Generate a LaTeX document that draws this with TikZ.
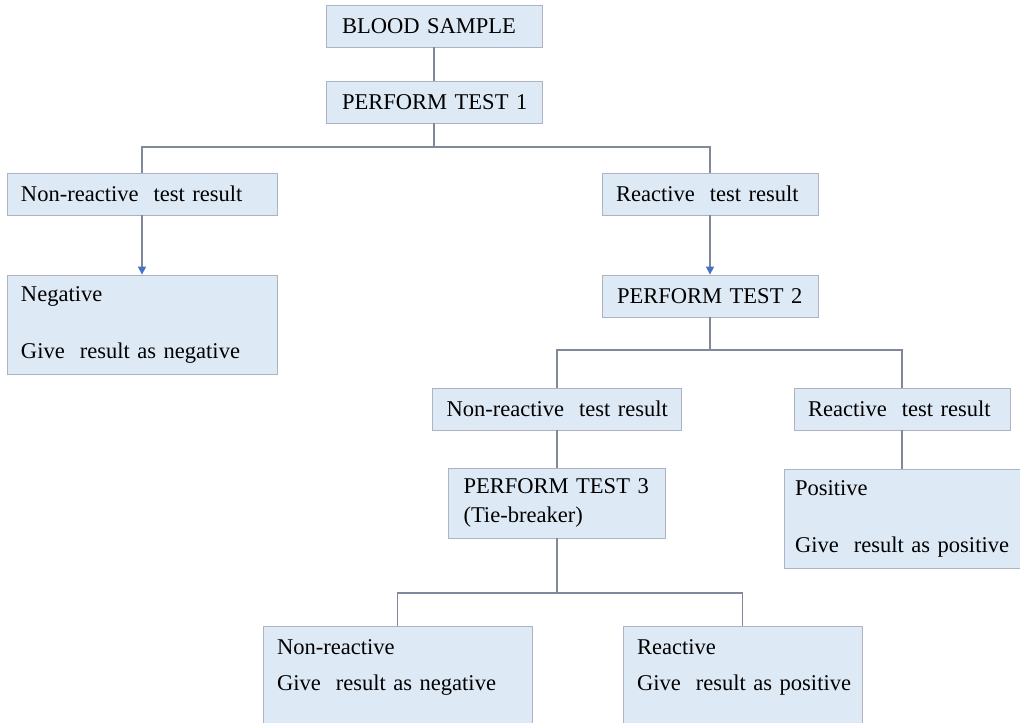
\documentclass[tikz,border=0pt]{standalone}
\usepackage{fontspec}
\setmainfont{Liberation Serif}
\usetikzlibrary{arrows.meta}

\definecolor{boxfill}{RGB}{222,233,246}
\definecolor{boxedge}{RGB}{172,180,194}
\definecolor{linkgray}{RGB}{128,136,154}
\definecolor{tipblue}{RGB}{68,114,196}

\tikzset{
  box/.style={draw=boxedge, fill=boxfill, line width=0.6pt, inner xsep=10.5pt, inner ysep=2pt,
    align=left, minimum height=31.5pt, font=\fontsize{16.9pt}{21.75pt}\selectfont},
  link/.style={draw=linkgray, line width=0.9pt},
  arrowlink/.style={link, -{Triangle[width=6pt,length=6pt,color=tipblue]}},
}

\begin{document}
\begin{tikzpicture}[x=0.75pt, y=-0.75pt]

  \useasboundingbox (0,0) rectangle (1020,722);
  \clip (0,0) rectangle (1020,722);

  % first test
  \node[box, inner xsep=12pt, text width=138pt] (sample) at (434,26) {\mbox{BLOOD SAMPLE}};
  \node[box, inner xsep=12pt, text width=138pt] (test1) at (434,102) {\mbox{PERFORM TEST 1}};

  \node[box, text width=181.5pt] (nr1) at (142,194) {\mbox{Non-reactive~ test result}};
  \node[box, text width=181.5pt, minimum height=74.25pt] (neg) at (142,324.5)
    {Negative\\[21pt]\mbox{Give~ result as negative}};
  \node[box, text width=141pt] (r1) at (710,194) {\mbox{Reactive~ test result}};

  % second test
  \node[box, inner xsep=11.25pt, text width=139.5pt] (test2) at (710,296) {\mbox{PERFORM TEST 2}};
  \node[box, text width=165.75pt] (nr2) at (557,409) {\mbox{Non-reactive~ test result}};
  \node[box, text width=141pt] (rr2) at (902,409) {\mbox{Reactive~ test result}};
  \node[box, inner xsep=8.25pt, text width=160.5pt, minimum height=74.25pt] (pos) at (902,518.5)
    {Positive\\[21pt]\mbox{Give~ result as positive}};

  % tie-breaker
  \node[box, inner xsep=11.25pt, text width=140.25pt, minimum height=52.5pt] (test3) at (557,503)
    {\mbox{PERFORM TEST 3}\\(Tie-breaker)};
  \node[box, anchor=north, inner ysep=10.2pt, text width=180.75pt] (nr3) at (397.5,626)
    {Non-reactive\\[5.25pt]\mbox{Give~ result as negative}\rule[-30pt]{0pt}{0pt}};
  \node[box, anchor=north, inner ysep=10.2pt, text width=158.25pt] (r3) at (742.5,626)
    {Reactive\\[5.25pt]\mbox{Give~ result as positive}\rule[-30pt]{0pt}{0pt}};

  \coordinate (split1) at (434,147);
  \coordinate (split2) at (710,350);
  \coordinate (split3) at (557,593);

  \draw[link] (sample) -- (test1);
  \draw[link] (test1) -- (split1);
  \draw[link] (nr1) |- (split1) -| (r1);
  \draw[arrowlink] (nr1) -- (neg);
  \draw[arrowlink] (r1) -- (test2);

  \draw[link] (test2) -- (split2);
  \draw[link] (nr2) |- (split2) -| (rr2);
  \draw[link] (rr2) -- (pos);
  \draw[link] (nr2) -- (test3);

  \draw[link] (test3) -- (split3);
  \draw[link] (nr3) |- (split3) -| (r3);

\end{tikzpicture}
\end{document}
